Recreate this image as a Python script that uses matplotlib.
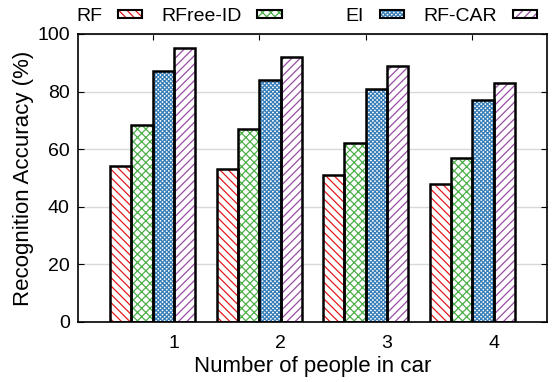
import numpy as np
import matplotlib
matplotlib.use('agg')
import matplotlib.pyplot as plt
from matplotlib.patches import Patch, Rectangle

plt.rcParams['font.family'] = ['Liberation Sans', 'DejaVu Sans']
plt.rcParams['font.size'] = 14
plt.rcParams['hatch.linewidth'] = 0.9

groups = ['1', '2', '3', '4']
methods = ['RF', 'RFree-ID', 'EI', 'RF-CAR']
rf = [54, 53, 51, 48]
rfree_id = [68.5, 67, 62, 57]
ei = [87, 84, 81, 77]
rf_car = [95, 92, 89, 83]

colors = ['#e41a1c', '#4daf4a', '#377eb8', '#984ea3']
hatches = ['\\' * 4, 'xxxx', 'x' * 8, '/' * 4]

fig = plt.figure(figsize=(5.52, 3.82), dpi=100)
ax = fig.add_axes([78 / 552, 1 - 322 / 382, (547 - 78) / 552, (322 - 34) / 382])

x = np.arange(len(groups))
width = 0.2
handles = []
for k, vals in enumerate([rf, rfree_id, ei, rf_car]):
    pos = x + (k - 1.5) * width
    # hatch drawn in series colour, then a black outline on top
    ax.bar(pos, vals, width, color='white', edgecolor=colors[k], hatch=hatches[k],
           linewidth=0, zorder=2)
    ax.bar(pos, vals, width, color='none', edgecolor='black', linewidth=1.8, zorder=3)
    handles.append(Patch(facecolor='white', edgecolor=colors[k], hatch=hatches[k],
                         linewidth=0))

ax.set_xlim(-0.7, 3.7)
ax.set_ylim(0, 100)
ax.set_yticks([0, 20, 40, 60, 80, 100])
# tick marks at the group centres, labels shifted right of them
ax.set_xticks(x, [''] * len(groups))
ax.set_xticks(x + 0.2, groups, minor=True)
ax.tick_params(direction='in', top=True, right=True, length=4, width=0.8, pad=6)
ax.tick_params(axis='x', which='major', bottom=False)
ax.tick_params(axis='x', which='minor', length=0, pad=9)
ax.grid(axis='y', color='#d8d8d8', linewidth=1, zorder=0)
ax.set_axisbelow(True)
for sp in ax.spines.values():
    sp.set_linewidth(1.2)

ax.set_xlabel('Number of people in car', fontsize=16, labelpad=3)
ax.set_ylabel('Recognition Accuracy (%)', fontsize=16, labelpad=2)

# outlined sample boxes for the key
class BoxHandler:
    def __init__(self, color, hatch):
        self.color = color
        self.hatch = hatch

    def legend_artist(self, legend, orig_handle, fontsize, handlebox):
        x0, y0 = handlebox.xdescent, handlebox.ydescent
        w, h = handlebox.width, handlebox.height
        r1 = Rectangle((-x0, -y0 + h * 0.18), w, h * 0.64, facecolor='white',
                       edgecolor=self.color, hatch=self.hatch, linewidth=0,
                       transform=handlebox.get_transform())
        r2 = Rectangle((-x0, -y0 + h * 0.18), w, h * 0.64, facecolor='none',
                       edgecolor='black', linewidth=1.5,
                       transform=handlebox.get_transform())
        handlebox.add_artist(r1)
        handlebox.add_artist(r2)
        return r2

hmap = {h: BoxHandler(colors[i], hatches[i]) for i, h in enumerate(handles)}
fig.legend(handles[:2], methods[:2], handler_map=hmap, ncol=2, markerfirst=False,
           frameon=False, loc='center left', bbox_to_anchor=(76 / 552, 1 - 16 / 382),
           borderaxespad=0, borderpad=0, handlelength=1.25, handletextpad=0.8,
           columnspacing=1.0)
fig.legend(handles[2:], methods[2:], handler_map=hmap, ncol=2, markerfirst=False,
           frameon=False, loc='center right', bbox_to_anchor=(537 / 552, 1 - 16 / 382),
           borderaxespad=0, borderpad=0, handlelength=1.25, handletextpad=0.8,
           columnspacing=1.0)

fig.savefig('out.png', dpi=100)
